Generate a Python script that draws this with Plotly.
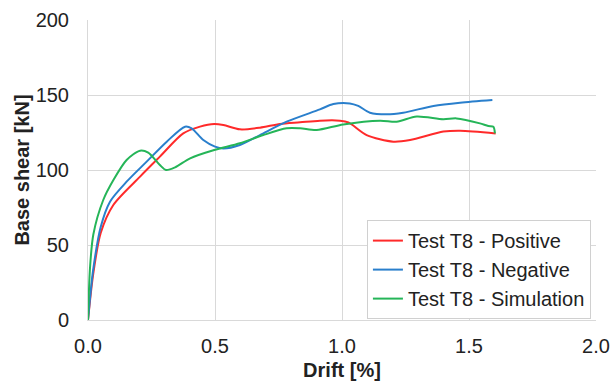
import plotly.graph_objects as go

pos_x = [0.0, 0.02, 0.05, 0.0997, 0.205, 0.283, 0.375, 0.441, 0.497, 0.533, 0.598, 0.677, 0.756, 0.835, 0.913, 0.992, 1.025, 1.097, 1.202, 1.268, 1.399, 1.465, 1.605]
pos_y = [0.0, 30.0, 58.0, 76.7, 95.6, 108.9, 124.4, 128.9, 130.7, 130.0, 127.1, 128.2, 130.7, 131.8, 132.9, 132.9, 131.8, 123.3, 118.9, 120.0, 125.6, 126.2, 124.4]

neg_x = [0.0, 0.02, 0.05, 0.0866, 0.152, 0.231, 0.310, 0.382, 0.408, 0.454, 0.500, 0.533, 0.598, 0.677, 0.782, 0.913, 0.966, 1.031, 1.064, 1.110, 1.176, 1.241, 1.360, 1.465, 1.592]
neg_y = [0.0, 33.0, 62.0, 78.9, 92.2, 105.6, 118.9, 128.9, 127.8, 120.0, 115.6, 114.4, 116.7, 123.3, 132.2, 140.4, 144.0, 144.4, 142.7, 138.2, 137.1, 138.2, 142.7, 144.9, 146.7]

sim_x = [0.0, 0.008, 0.021, 0.06, 0.10, 0.152, 0.205, 0.237, 0.283, 0.307, 0.343, 0.402, 0.497, 0.598, 0.690, 0.782, 0.835, 0.900, 1.005, 1.150, 1.215, 1.294, 1.399, 1.451, 1.543, 1.576, 1.596, 1.602]
sim_y = [0.0, 35.0, 57.0, 80.0, 93.3, 106.7, 112.9, 111.6, 103.3, 100.0, 101.8, 107.8, 113.3, 117.8, 123.3, 127.8, 127.8, 126.7, 130.4, 132.9, 132.2, 135.6, 133.8, 134.4, 131.1, 129.3, 128.9, 124.4]

names = ["Test T8 - Positive", "Test T8 - Negative", "Test T8 - Simulation"]
colors = ["#FF2A2A", "#2A7FCC", "#25B558"]

x_ticks = [0.0, 0.5, 1.0, 1.5, 2.0]
x_tick_labels = ["0.0", "0.5", "1.0", "1.5", "2.0"]
y_ticks = [0, 50, 100, 150, 200]

fig = go.Figure()
for xs, ys, nm, c in [(pos_x, pos_y, names[0], colors[0]),
                      (neg_x, neg_y, names[1], colors[1]),
                      (sim_x, sim_y, names[2], colors[2])]:
    fig.add_trace(go.Scatter(x=xs, y=ys, name=nm, mode="lines",
                             line=dict(color=c, width=2, shape="spline", smoothing=0.8)))

font = "Liberation Sans, Arial, sans-serif"
fig.update_layout(
    width=611, height=383,
    margin=dict(l=88, r=15, t=20, b=63),
    paper_bgcolor="white", plot_bgcolor="white",
    font=dict(family=font, size=20, color="#222222"),
    showlegend=True,
    legend=dict(x=0.99, y=0.003, xanchor="right", yanchor="bottom",
                bgcolor="white", bordercolor="#D0D0D0", borderwidth=1,
                font=dict(size=20, color="#222222"), itemwidth=30,
                tracegroupgap=0),
    xaxis=dict(range=[0, 2.0], tickvals=x_ticks, ticktext=x_tick_labels,
               showgrid=True, gridcolor="#D9D9D9", gridwidth=1,
               zeroline=False, showline=True, linecolor="#D9D9D9",
               ticks="", ticklabelstandoff=8, automargin=False,
               title=dict(text="<b>Drift [%]</b>", font=dict(size=20), standoff=6)),
    yaxis=dict(range=[0, 200], tickvals=y_ticks,
               showgrid=True, gridcolor="#D9D9D9", gridwidth=1,
               zeroline=False, showline=True, linecolor="#D9D9D9",
               ticks="", ticklabelstandoff=14, automargin=False,
               title=dict(text="<b>Base shear [kN]</b>", font=dict(size=20), standoff=0)),
)

fig.write_html("out.html")
